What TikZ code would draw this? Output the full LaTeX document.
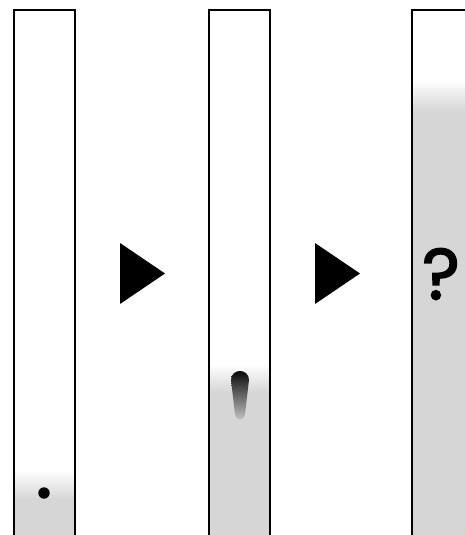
\documentclass[tikz,border=0pt]{standalone}
\usepackage{fontspec}
\newfontfamily\qfont{Poppins}[FakeBold=2.2]
\usepackage{tikz}

\definecolor{stripgray}{gray}{0.84}

\begin{document}
\begin{tikzpicture}[x=1pt, y=-1pt, strip/.style={draw=black, line width=2.2pt}, pointer/.style={fill=black}, wash/.style={fill=stripgray}, fade/.style={top color=white, bottom color=stripgray}]
\useasboundingbox (0,0) rectangle (465,535);
\clip (0,0) rectangle (465,535);
% first strip, sample dot at the start line
\path [wash] (14,497) rectangle (75,560);
\shade [fade] (14,470) rectangle (75,499);
\draw [strip] (14,10) rectangle (75,560);
\fill (44,493) circle (5.7) coordinate (dot);
% second strip, spot moving up
\path [wash] (209,391) rectangle (270,560);
\shade [fade] (209,364) rectangle (270,392);
\draw [strip] (209,10) rectangle (270,560);
\shade [top color=black, middle color=black, bottom color=stripgray!92!black]
  (231,380) .. controls (231,368) and (249,368) .. (249,380)
  -- (245,414) .. controls (244,421) and (236,421) .. (235,414) -- cycle;
% third strip, front near the top
\path [wash] (412,110) rectangle (480,560);
\shade [fade] (412,80) rectangle (480,111);
\draw [strip] (412,10) rectangle (480,560);
\node (ask) at (441,274) {\qfont\fontsize{72}{72}\selectfont ?};
% arrows between the strips
\fill [pointer] (120,243) -- (165,273.5) -- (120,304) -- cycle;
\fill [pointer] (315,243) -- (360,273.5) -- (315,304) -- cycle;
\end{tikzpicture}
\end{document}
